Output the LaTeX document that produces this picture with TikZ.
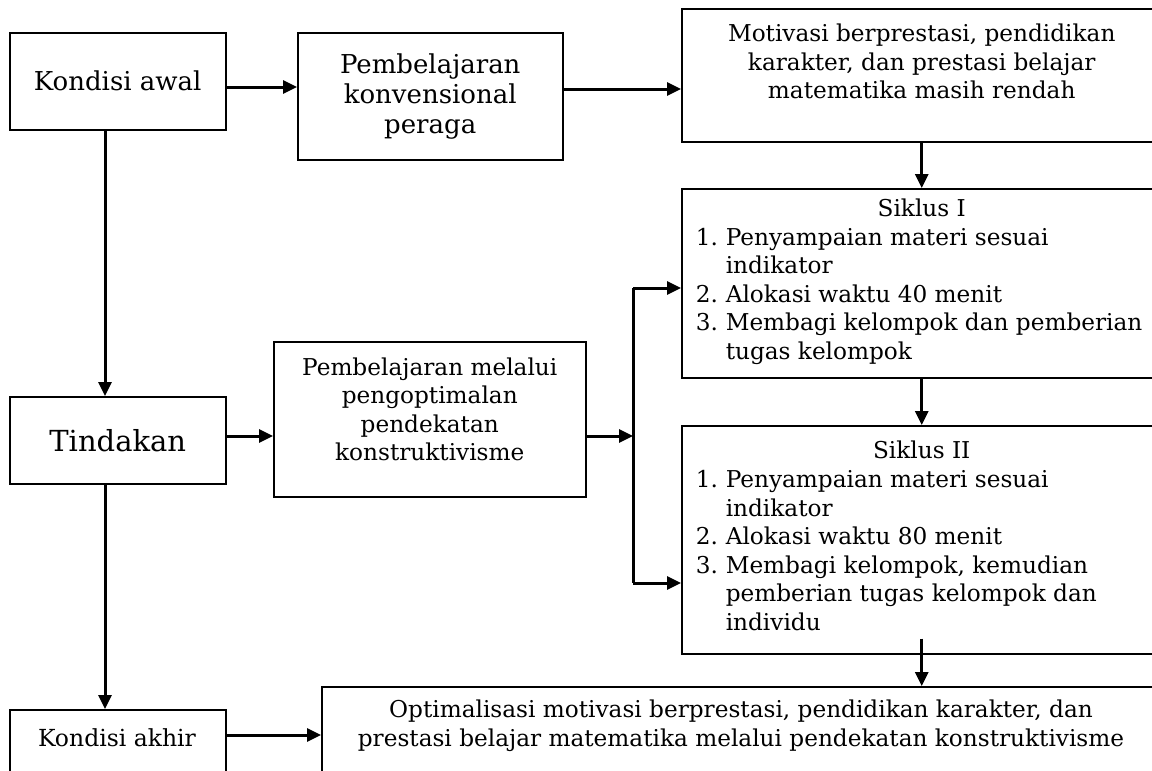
\documentclass[tikz,border=0pt]{standalone}
\usepackage{fontspec}
\setmainfont{DejaVu Serif}
\usetikzlibrary{arrows.meta}
\newcommand\fs{\fontsize{11.6}{14.25}\selectfont}
\newcommand\fl{\fontsize{13}{15}\selectfont}
\begin{document}
\begin{tikzpicture}[x=0.5pt,y=-0.5pt,
  box/.style={draw, line width=0.75pt, rectangle, anchor=north west, inner sep=0pt, font=\fs, align=center},
  txt/.style={font=\fs, align=center, inner sep=0pt},
  arr/.style={line width=1.5pt, -{Triangle[length=7pt,width=6.5pt]}},
  ln/.style={line width=1.5pt}]
\useasboundingbox (0,0) rectangle (1152,771);
\clip (0,0) rectangle (1152,771);

\node[box, minimum width=108pt, minimum height=48.5pt, font=\fl] (ka) at (9,32) {Kondisi awal};
\node[box, minimum width=132.5pt, minimum height=63.5pt, font=\fl] (pk) at (297,32) {Pembelajaran\\konvensional\\peraga};
\node[box, minimum width=240pt, minimum height=66.5pt] (mot) at (681,8) {};
\node[txt] (mott) at ([yshift=6.75pt]mot.center) {Motivasi berprestasi, pendidikan\\karakter, dan prestasi belajar\\matematika masih rendah};

\node[box, minimum width=240pt, minimum height=94.5pt] (si1) at (681,188) {\begin{minipage}{226pt}\centering Siklus I\par\vspace{3.5pt}\raggedright
\begin{tabular}{@{}l@{}l@{}}
\makebox[15pt][l]{1.} & Penyampaian materi sesuai\\
 & indikator\\
\makebox[15pt][l]{2.} & Alokasi waktu 40 menit\\
\makebox[15pt][l]{3.} & Membagi kelompok dan pemberian\\
 & tugas kelompok
\end{tabular}\end{minipage}};

\node[box, minimum width=240pt, minimum height=114pt] (si2) at (681,425) {\begin{minipage}{226pt}\centering Siklus II\par\vspace{3.5pt}\raggedright
\begin{tabular}{@{}l@{}l@{}}
\makebox[15pt][l]{1.} & Penyampaian materi sesuai\\
 & indikator\\
\makebox[15pt][l]{2.} & Alokasi waktu 80 menit\\
\makebox[15pt][l]{3.} & Membagi kelompok, kemudian\\
 & pemberian tugas kelompok dan\\
 & individu
\end{tabular}\end{minipage}};

\node[box, minimum width=108pt, minimum height=43.5pt, font=\fontsize{14.5}{17}\selectfont] (ti) at (9,396) {Tindakan};
\node[box, minimum width=156pt, minimum height=77.5pt] (pm) at (273,341) {};
\node[txt] (pmt) at ([yshift=5pt]pm.center) {Pembelajaran melalui\\pengoptimalan\\pendekatan\\konstruktivisme};

\node[box, minimum width=108pt, minimum height=60pt] (kak) at (9,709) {};
\node[txt, font=\fontsize{11.75}{14}\selectfont] (kakt) at (117,738) {Kondisi akhir};
\node[box, minimum width=420pt, minimum height=60pt] (fin) at (321,686) {};
\node[txt] (fint) at (741,726) {Optimalisasi motivasi berprestasi, pendidikan karakter, dan\\prestasi belajar matematika melalui pendekatan konstruktivisme};

\coordinate (vx) at (105,0);
\coordinate (a1) at (0,87);
\coordinate (a2) at (0,89);
\coordinate (a3) at (0,436);
\coordinate (a4) at (0,735);
\coordinate (b1) at (633,288);
\coordinate (b2) at (633,583);
\coordinate (bm) at (633,436);

\draw[arr] (ka.east |- a1) -- (pk.west |- a1);
\draw[arr] (pk.east |- a2) -- (mot.west |- a2);
\draw[arr] (mot.south) -- (si1.north);
\draw[arr] (si1.south) -- (si2.north);
\draw[arr] ([yshift=8pt]si2.south) -- (si2.south |- fin.north);
\draw[arr] (ka.south -| vx) -- (ti.north -| vx);
\draw[arr] (ti.south -| vx) -- (kak.north -| vx);
\draw[arr] (ti.east |- a3) -- (pm.west |- a3);
\draw[arr] (pm.east |- bm) -- (bm);
\draw[ln] (b1) -- (b2);
\draw[arr] (b1) -- (b1 -| si1.west);
\draw[arr] (b2) -- (b2 -| si2.west);
\draw[arr] (kak.east |- a4) -- (fin.west |- a4);
\end{tikzpicture}
\end{document}
